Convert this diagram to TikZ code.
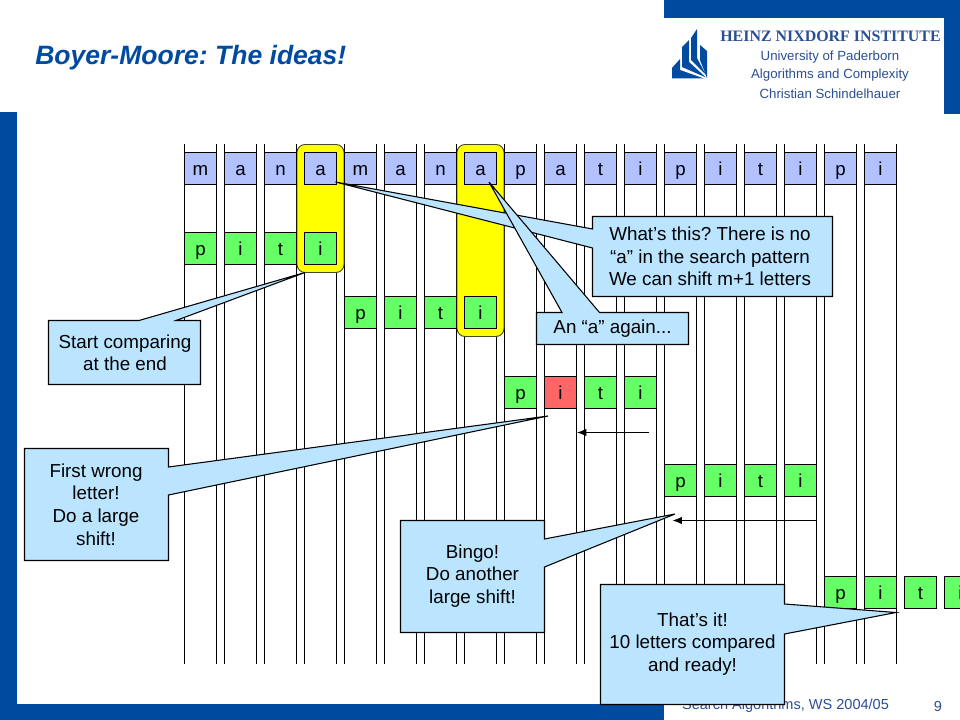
\documentclass[tikz,border=0pt]{standalone}
\usepackage{fontspec}
\setmainfont{Liberation Sans}
\newfontfamily\serifhead{Liberation Serif}
\usetikzlibrary{arrows.meta}
\definecolor{frameblue}{HTML}{004A9F}
\definecolor{textblue}{HTML}{2B4F94}
\definecolor{topcell}{HTML}{B2C2FF}
\definecolor{greencell}{HTML}{66FF66}
\definecolor{redcell}{HTML}{FF6666}
\definecolor{note}{HTML}{BBE5FF}
\definecolor{hiliteyellow}{HTML}{FFFF00}
\definecolor{edgeolive}{HTML}{4A4A20}
\tikzset{
  px/.style={x=0.75pt,y=-0.75pt},
  cell/.style={draw=black,line width=0.7pt,minimum width=24pt,minimum height=24pt,inner sep=0pt,text height=11.4pt,text depth=1.6pt,font=\fontsize{14}{16}\selectfont,text=black},
  topc/.style={cell,fill=topcell},
  grn/.style={cell,fill=greencell},
  rd/.style={cell,fill=redcell},
  guide/.style={line width=0.85pt,black},
  hilite/.style={draw=edgeolive,fill=hiliteyellow,line width=0.7pt,rounded corners=6pt},
  bubble/.style={draw=black,fill=note,line width=0.8pt,line join=miter},
  ntext/.style={align=center,font=\fontsize{14.1}{16.9}\selectfont,text=black,inner sep=0pt},
  pf/.style={fill=frameblue,draw=none},
  shiftarrow/.style={line width=0.7pt,-{Latex[length=7pt,width=5.5pt]}},
}
\begin{document}
\frenchspacing
\begin{tikzpicture}[px]
\useasboundingbox (0,0) rectangle (960,720);
\fill[white] (0,0) rectangle (960,720);
% frame
\fill[pf] (0,112) rectangle (17,720);
\fill[pf] (0,703.5) rectangle (664,720);
\fill[pf] (664,0) rectangle (960,18);
\fill[pf] (944,0) rectangle (960,114);
% header
\node[anchor=west,inner sep=0pt,text=frameblue,font=\fontsize{19.9}{24}\selectfont\bfseries\itshape] (title) at (35,58) {Boyer-Moore: The ideas!};
\node[inner sep=0pt,text=textblue,font=\serifhead\fontsize{11.95}{14}\selectfont\bfseries] (inst) at (830.5,36) {HEINZ NIXDORF INSTITUTE};
\node[inner sep=0pt,text=textblue,font=\fontsize{9.95}{12}\selectfont] (uni) at (830,57.5) {University of Paderborn};
\node[inner sep=0pt,text=textblue,font=\fontsize{9.95}{12}\selectfont] (alg) at (830,75.5) {Algorithms and Complexity};
\node[inner sep=0pt,text=textblue,font=\fontsize{9.95}{12}\selectfont] (chr) at (830,93.5) {Christian Schindelhauer};
% logo
\fill[frameblue] (672,68) -- (680,59) -- (680,70) -- (704,78.5) -- (672,78.5) -- cycle;
\fill[frameblue] (682,47) -- (689,40) -- (689,62) -- (706,77.5) -- (682,67) -- cycle;
\fill[frameblue] (691,38) -- (697,29) -- (697,58) -- (706,75) -- (691,60) -- cycle;
\fill[frameblue] (700,45) -- (707,51) -- (707,78) -- (700,60) -- cycle;
% footer
\node[inner sep=0pt,text=textblue,font=\fontsize{10.9}{12}\selectfont] (foot) at (785.5,706) {Search Algorithms, WS 2004/05};
\node[inner sep=0pt,text=textblue,font=\fontsize{10.9}{12}\selectfont] (pg) at (938,706) {9};
% vertical guides
\foreach \i in {0,...,17}{
  \draw[guide] ({184.5+40*\i},144) -- ({184.5+40*\i},664);
  \draw[guide] ({216.5+40*\i},144) -- ({216.5+40*\i},664);
}
% highlights
\draw[hilite] (297,144.5) rectangle (344,272.5);
\draw[hilite] (457,144.5) rectangle (504,336.5);
% text row
\foreach \i/\l in {0/m,1/a,2/n,3/a,4/m,5/a,6/n,7/a,8/p,9/a,10/t,11/i,12/p,13/i,14/t,15/i,16/p,17/i}{
  \node[topc] (t\i) at ({200.5+40*\i},168.5) {\l};
}
% pattern rows
\foreach \r/\x/\y in {a/200.5/248.5,b/360.5/312.5,c/520.5/392.5,d/680.5/480.5,e/840.5/592.5}{
  \node[grn] (\r0) at (\x,\y) {p};
  \node[grn] (\r1) at ({\x+40},\y) {i};
  \node[grn] (\r2) at ({\x+80},\y) {t};
  \node[grn] (\r3) at ({\x+120},\y) {i};
}
\node[rd] (c1x) at (560.5,392.5) {i};
% shift arrows
\coordinate (s1a) at (649,432.5);
\coordinate (s1b) at (577,432.5);
\coordinate (s2a) at (816.5,520.5);
\coordinate (s2b) at (672.5,520.5);
\draw[shiftarrow] (s1a) -- (s1b);
\draw[shiftarrow] (s2a) -- (s2b);
% callouts
\coordinate (tipstart) at (305,272.5);
\draw[bubble] (48.5,320.5) -- (139,320.5) -- (tipstart) -- (176,320.5) -- (200.5,320.5) -- (200.5,384.5) -- (48.5,384.5) -- cycle;
\node[ntext] (nstart) at (125,353) {Start comparing\\at the end};

\coordinate (tipthis) at (335.5,182);
\draw[bubble] (592.5,216.5) -- (832.5,216.5) -- (832.5,296.5) -- (592.5,296.5) -- (592.5,248) -- (tipthis) -- (592.5,229) -- cycle;
\node[ntext] (nthis) at (710,256.5) {What’s this? There is no\\“a” in the search pattern\\We can shift m+1 letters};

\coordinate (tipagain) at (489,182);
\draw[bubble] (536.5,312.5) -- (562,312.5) -- (tipagain) -- (599.5,312.5) -- (688.5,312.5) -- (688.5,344.5) -- (536.5,344.5) -- cycle;
\node[ntext] (nagain) at (612.5,328.5) {An “a” again...};

\coordinate (tipwrong) at (548,416);
\draw[bubble] (24.5,448.5) -- (168.5,448.5) -- (168.5,467) -- (tipwrong) -- (168.5,495) -- (168.5,560.5) -- (24.5,560.5) -- cycle;
\node[ntext] (nwrong) at (96,504.5) {First wrong\\letter!\\Do a large\\shift!};

\coordinate (tipbingo) at (675,514);
\draw[bubble] (400.5,520.5) -- (544.5,520.5) -- (544.5,539) -- (tipbingo) -- (544.5,567) -- (544.5,632.5) -- (400.5,632.5) -- cycle;
\node[ntext] (nbingo) at (472.5,576) {Bingo!\\Do another\\large shift!};

\coordinate (tipdone) at (896,612.5);
\draw[bubble] (600.5,584.5) -- (784.5,584.5) -- (784.5,604) -- (tipdone) -- (784.5,634) -- (784.5,704.5) -- (600.5,704.5) -- cycle;
\node[ntext] (ndone) at (692.5,644) {That’s it!\\10 letters compared\\and ready!};
\end{tikzpicture}
\end{document}
